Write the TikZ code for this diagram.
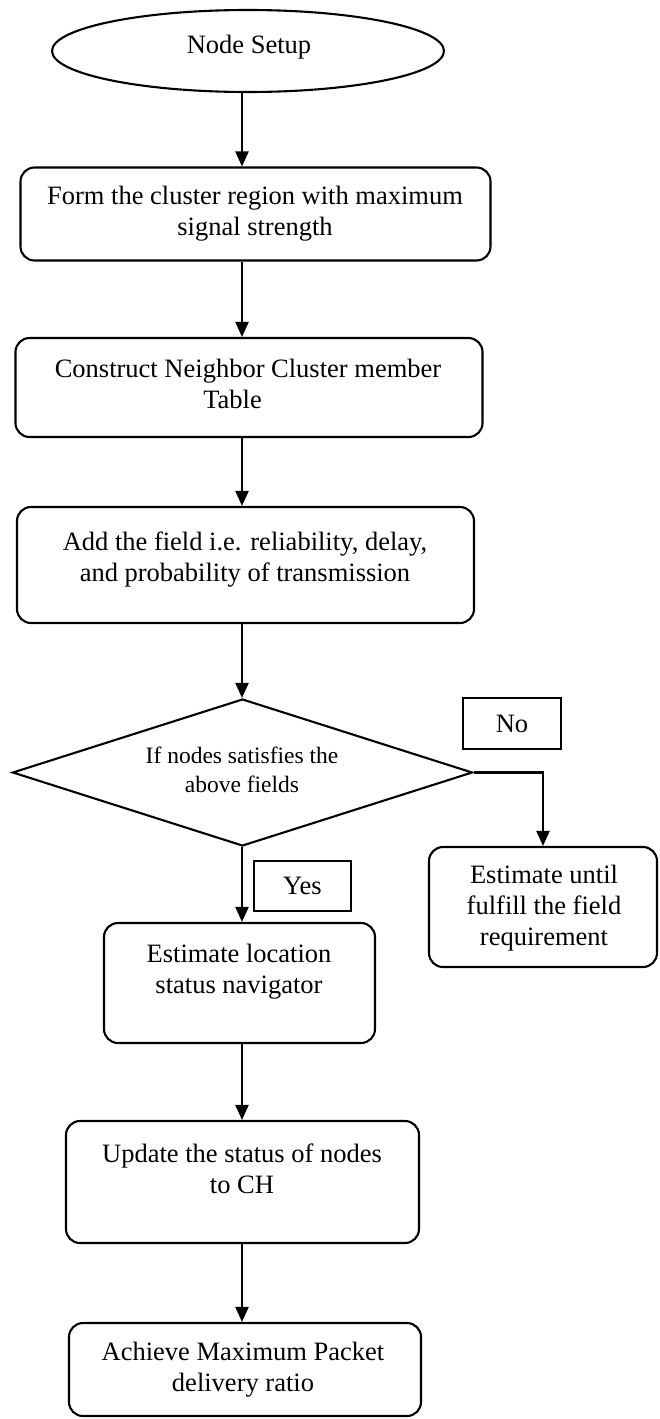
\documentclass[tikz,border=0pt]{standalone}
\usepackage{fontspec}
\setmainfont{Liberation Serif}
\usetikzlibrary{shapes.geometric,arrows.meta}
\begin{document}
\begin{tikzpicture}[x=1pt,y=-1pt,line width=2.1pt,
  box/.style={draw, rounded corners=14pt, inner sep=0pt},
  tag/.style={draw, line width=2pt, inner sep=0pt, font=\fontsize{26.5}{31}\selectfont},
  txt/.style={align=center, inner sep=0pt, font=\fontsize{26.5}{31}\selectfont},
  arr/.style={-{Triangle[length=15pt,width=13pt]}}]
\useasboundingbox (0,0) rectangle (659,1419);
\coordinate (ax) at (242,0);
% start
\node[draw, ellipse, inner sep=0pt, minimum width=392pt, minimum height=82pt] (start) at (248,51) {};
\node[txt] (tstart) at (249,47) {Node Setup};
% box 1
\node[box, minimum width=470pt, minimum height=93pt] (b1) at (255.5,214) {};
\node[txt] (t1) at (255,214) {Form the cluster region with maximum\\signal strength};
% box 2
\node[box, minimum width=467pt, minimum height=99pt] (b2) at (249,387.5) {};
\node[txt] (t2) at (248,384) {Construct Neighbor Cluster member\\Table\hspace*{31pt}};
% box 3
\node[box, minimum width=457pt, minimum height=116pt] (b3) at (245.5,565) {};
\node[txt] (t3) at (245,560) {Add the field i.e. reliability, delay,\\and probability of transmission};
% decision
\node[draw, diamond, inner sep=0pt, minimum width=460pt, minimum height=147pt] (dec) at (242.5,772.5) {};
\node[txt, font=\fontsize{23.5}{29}\selectfont] (tdec) at (242,770) {If nodes satisfies the\\above fields};
% No / Yes
\node[tag, minimum width=98pt, minimum height=51pt] (no) at (512,723.5) {No};
\node[tag, minimum width=97pt, minimum height=50pt] (yes) at (302.5,886) {Yes};
% right box
\node[box, minimum width=228pt, minimum height=120pt] (rb) at (543,907) {};
\node[txt] (trb) at (544,908) {Estimate until\\fulfill the field\\requirement};
% box 4
\node[box, minimum width=271pt, minimum height=120pt] (b4) at (239.5,983) {};
\node[txt] (t4) at (239,971.5) {Estimate location\\status navigator};
% box 5
\node[box, minimum width=353pt, minimum height=122pt] (b5) at (242.5,1182) {};
\node[txt] (t5) at (242,1169) {Update the status of nodes\\to CH};
% box 6
\node[box, minimum width=352pt, minimum height=93pt] (b6) at (245,1369.5) {};
\node[txt] (t6) at (243,1370) {Achieve Maximum Packet\\delivery ratio};
% connectors
\draw[arr] (start.south -| ax) -- (b1.north -| ax);
\draw[arr] (b1.south -| ax) -- (b2.north -| ax);
\draw[arr] (b2.south -| ax) -- (b3.north -| ax);
\draw[arr] (b3.south -| ax) -- (dec.north -| ax);
\draw[arr] (dec.east) -- (dec.east -| rb.north) -- (rb.north);
\draw[arr] (dec.south -| ax) -- (b4.north -| ax);
\draw[arr] (b4.south -| ax) -- (b5.north -| ax);
\draw[arr] (b5.south -| ax) -- (b6.north -| ax);
\end{tikzpicture}
\end{document}
